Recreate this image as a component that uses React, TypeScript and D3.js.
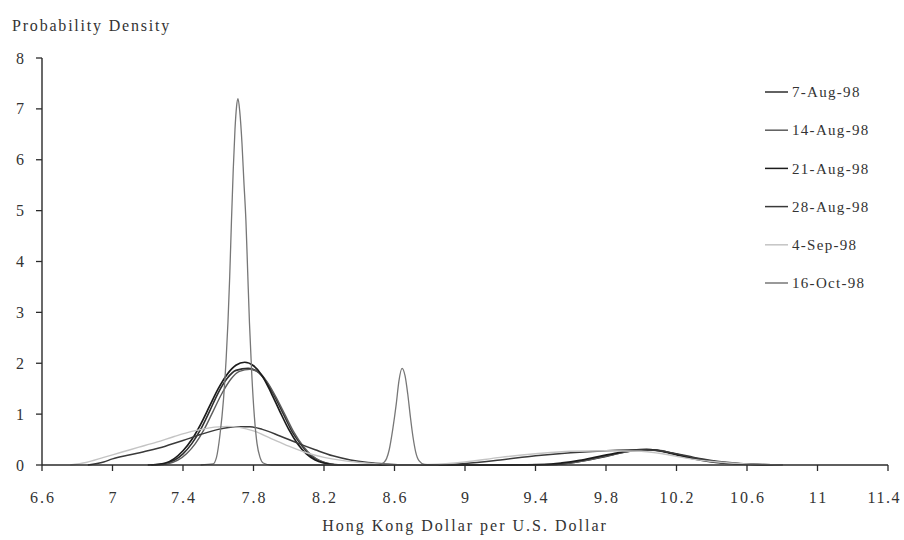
import React from "react";
import * as d3 from "d3";

type Pt = [number, number];

const seriesNames = ["7-Aug-98", "14-Aug-98", "21-Aug-98", "28-Aug-98", "4-Sep-98", "16-Oct-98"];
const seriesColors = ["#2e2e2e", "#5c5c5c", "#1c1c1c", "#3a3a3a", "#c4c4c4", "#777777"];
const seriesWidths = [1.6, 1.4, 1.7, 1.5, 1.4, 1.3];

const aug7: Pt[] = [
  [7.22, 0], [7.3, 0.03], [7.4, 0.22], [7.45, 0.42], [7.5, 0.7], [7.55, 1.05], [7.6, 1.42],
  [7.65, 1.7], [7.7, 1.86], [7.77, 1.9], [7.82, 1.84], [7.87, 1.65], [7.92, 1.35], [7.97, 1.0],
  [8.02, 0.65], [8.07, 0.4], [8.12, 0.2], [8.17, 0.09], [8.22, 0.03], [8.3, 0], [8.6, 0],
  [9.2, 0], [9.5, 0.01], [9.6, 0.04], [9.7, 0.1], [9.8, 0.17], [9.9, 0.25], [10.0, 0.29],
  [10.07, 0.3], [10.15, 0.25], [10.25, 0.17], [10.35, 0.1], [10.45, 0.05], [10.6, 0.02], [10.8, 0],
];
const aug14: Pt[] = [
  [7.24, 0], [7.32, 0.03], [7.42, 0.22], [7.47, 0.42], [7.52, 0.7], [7.57, 1.05], [7.62, 1.4],
  [7.67, 1.68], [7.72, 1.84], [7.78, 1.88], [7.83, 1.82], [7.88, 1.62], [7.93, 1.32], [7.98, 0.98],
  [8.03, 0.64], [8.08, 0.38], [8.13, 0.19], [8.18, 0.08], [8.24, 0.02], [8.32, 0], [8.6, 0],
  [9.2, 0], [9.5, 0.01], [9.62, 0.05], [9.72, 0.11], [9.82, 0.19], [9.92, 0.26], [10.02, 0.3],
  [10.1, 0.29], [10.18, 0.23], [10.28, 0.15], [10.38, 0.09], [10.5, 0.04], [10.65, 0.01], [10.8, 0],
];
const aug21: Pt[] = [
  [7.2, 0], [7.3, 0.04], [7.4, 0.28], [7.45, 0.5], [7.5, 0.8], [7.55, 1.15], [7.6, 1.5],
  [7.65, 1.78], [7.7, 1.96], [7.75, 2.02], [7.8, 1.95], [7.85, 1.75], [7.9, 1.42], [7.95, 1.05],
  [8.0, 0.7], [8.05, 0.42], [8.1, 0.22], [8.15, 0.1], [8.2, 0.04], [8.28, 0], [8.6, 0],
  [9.2, 0], [9.45, 0.01], [9.55, 0.04], [9.65, 0.09], [9.75, 0.16], [9.85, 0.23], [9.95, 0.29],
  [10.03, 0.31], [10.1, 0.28], [10.2, 0.2], [10.3, 0.12], [10.4, 0.06], [10.55, 0.02], [10.75, 0],
];
const aug28: Pt[] = [
  [6.86, 0], [6.95, 0.06], [7.0, 0.12], [7.1, 0.2], [7.2, 0.28], [7.3, 0.37], [7.4, 0.48],
  [7.5, 0.6], [7.6, 0.7], [7.7, 0.75], [7.78, 0.75], [7.85, 0.7], [7.95, 0.57], [8.05, 0.43],
  [8.15, 0.3], [8.25, 0.18], [8.35, 0.1], [8.45, 0.05], [8.55, 0.02], [8.65, 0], [8.85, 0],
  [9.0, 0.03], [9.2, 0.1], [9.4, 0.18], [9.6, 0.24], [9.8, 0.28], [10.0, 0.3], [10.1, 0.28],
  [10.2, 0.22], [10.3, 0.15], [10.4, 0.09], [10.5, 0.05], [10.6, 0.02], [10.8, 0],
];
const sep4: Pt[] = [
  [6.76, 0], [6.85, 0.05], [6.95, 0.15], [7.05, 0.25], [7.15, 0.35], [7.25, 0.45], [7.35, 0.56],
  [7.45, 0.66], [7.55, 0.73], [7.65, 0.76], [7.72, 0.74], [7.8, 0.67], [7.9, 0.52], [8.0, 0.37],
  [8.1, 0.24], [8.2, 0.15], [8.3, 0.09], [8.4, 0.05], [8.5, 0.02], [8.6, 0], [8.8, 0.01],
  [9.0, 0.06], [9.2, 0.15], [9.4, 0.22], [9.6, 0.27], [9.8, 0.28], [10.0, 0.27], [10.1, 0.23],
  [10.2, 0.17], [10.3, 0.11], [10.4, 0.07], [10.5, 0.04], [10.6, 0.02], [10.8, 0],
];
const oct16: Pt[] = [
  [7.5, 0], [7.57, 0.02], [7.59, 0.15], [7.61, 0.6], [7.63, 1.3], [7.645, 2.1], [7.655, 2.8],
  [7.665, 3.7], [7.675, 4.8], [7.685, 5.8], [7.695, 6.6], [7.704, 7.05], [7.712, 7.2],
  [7.722, 6.95], [7.735, 6.3], [7.745, 5.6], [7.757, 4.8], [7.767, 3.8], [7.777, 2.8],
  [7.79, 1.8], [7.805, 0.95], [7.82, 0.42], [7.837, 0.15], [7.855, 0.04], [7.9, 0], [8.2, 0],
  [8.5, 0], [8.54, 0.05], [8.57, 0.3], [8.59, 0.7], [8.61, 1.2], [8.625, 1.65], [8.643, 1.9],
  [8.66, 1.75], [8.675, 1.4], [8.69, 0.95], [8.705, 0.55], [8.72, 0.26], [8.74, 0.08],
  [8.77, 0.01], [8.85, 0],
];
const seriesData: Pt[][] = [aug7, aug14, aug21, aug28, sep4, oct16];

const xTicks = [6.6, 7, 7.4, 7.8, 8.2, 8.6, 9, 9.4, 9.8, 10.2, 10.6, 11, 11.4];
const yTicks = [0, 1, 2, 3, 4, 5, 6, 7, 8];

const yTitle = "Probability Density";
const xTitle = "Hong Kong Dollar per U.S. Dollar";

const FONT = "'Liberation Serif', 'Times New Roman', serif";

export default function App() {
  const W = 904, H = 540;
  const x = d3.scaleLinear().domain([6.6, 11.4]).range([42, 888]);
  const y = d3.scaleLinear().domain([0, 8]).range([465, 58]);
  const line = d3
    .line<Pt>()
    .x((d) => x(d[0]))
    .y((d) => y(d[1]))
    .curve(d3.curveMonotoneX);

  const legendY = d3.scalePoint<string>().domain(seriesNames).range([92, 283]);
  const axisColor = "#2a2a2a";
  const lastTick = xTicks[xTicks.length - 1];

  return (
    <svg width={W} height={H} style={{ position: "absolute", left: 0, top: 0, background: "#fff" }} fontFamily={FONT}>
      <rect x={0} y={0} width={W} height={H} fill="#fff" />
      {seriesData.map((d, i) => (
        <path key={seriesNames[i]} d={line(d) || ""} fill="none" stroke={seriesColors[i]} strokeWidth={seriesWidths[i]} strokeLinejoin="round" />
      ))}
      <line x1={x(6.6)} x2={x(6.6)} y1={y(8)} y2={y(0)} stroke={axisColor} strokeWidth={1.4} />
      <line x1={x(6.6)} x2={x(11.4)} y1={y(0)} y2={y(0)} stroke={axisColor} strokeWidth={1.4} />
      {yTicks.map((t) => (
        <g key={"y" + t}>
          <line x1={x(6.6) - 6} x2={x(6.6)} y1={y(t)} y2={y(t)} stroke={axisColor} strokeWidth={1.3} />
          <text x={25} y={y(t)} dy="0.35em" textAnchor="end" fontSize={16} fill="#333" letterSpacing={1}>
            {t}
          </text>
        </g>
      ))}
      {xTicks.map((t) => (
        <g key={"x" + t}>
          <line x1={x(t)} x2={x(t)} y1={y(0)} y2={y(0) + 6} stroke={axisColor} strokeWidth={1.3} />
          <text
            x={t === lastTick ? 901 : x(t) + 1}
            y={497}
            dy="0.35em"
            textAnchor={t === lastTick ? "end" : "middle"}
            fontSize={16}
            fill="#333"
            letterSpacing={t === lastTick ? 1.5 : 2}
          >
            {String(t)}
          </text>
        </g>
      ))}
      <text x={12} y={25} dy="0.35em" fontSize={16} fill="#333" letterSpacing={1.8}>
        {yTitle}
      </text>
      <text x={465} y={525} dy="0.35em" textAnchor="middle" fontSize={16} fill="#333" letterSpacing={2}>
        {xTitle}
      </text>
      {seriesNames.map((n, i) => (
        <g key={"lg" + n}>
          <line x1={765} x2={788} y1={legendY(n)} y2={legendY(n)} stroke={seriesColors[i]} strokeWidth={1.5} />
          <text x={792} y={legendY(n)} dy="0.35em" fontSize={15} fill="#333" letterSpacing={1.3}>
            {n}
          </text>
        </g>
      ))}
    </svg>
  );
}
